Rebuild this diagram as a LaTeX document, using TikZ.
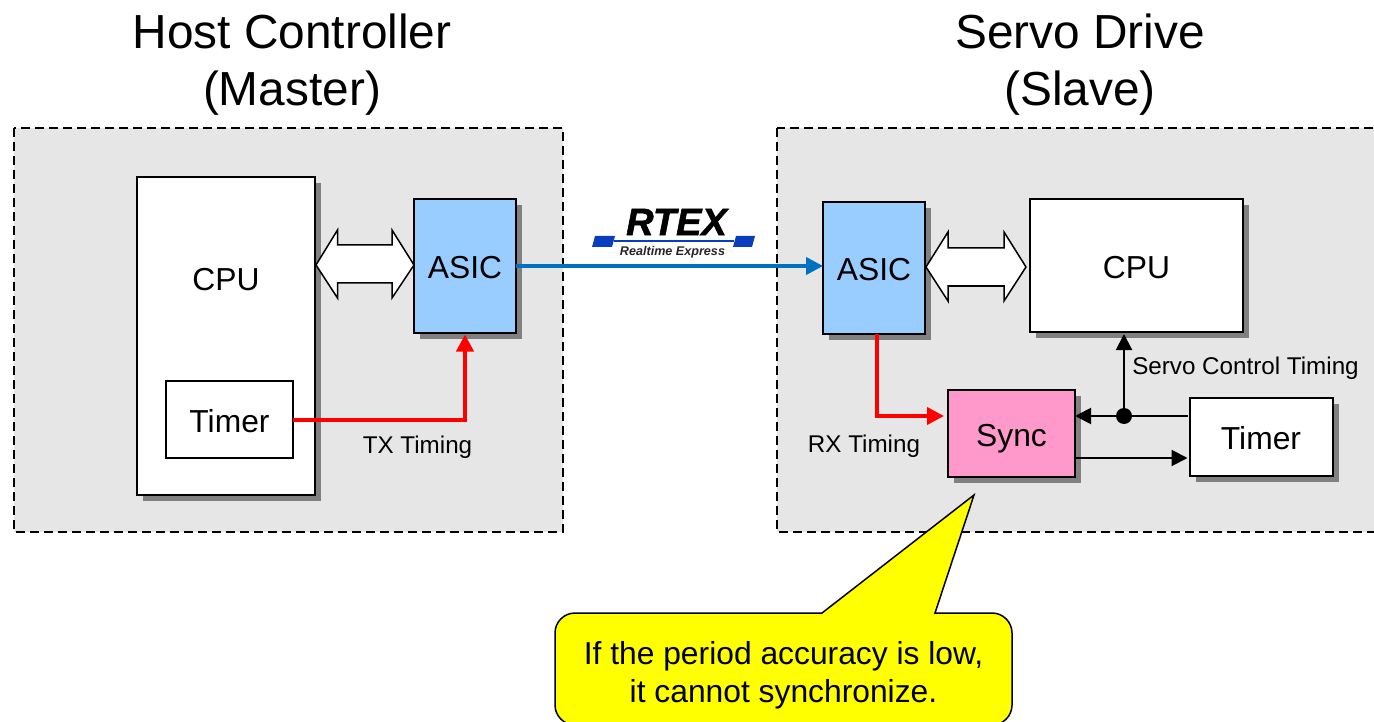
\documentclass[tikz,border=0pt]{standalone}
\usepackage{fontspec}
\setmainfont{Liberation Sans}
\newfontfamily\logofont{Liberation Sans}[BoldItalicFeatures={FakeBold=1.5}]
\usetikzlibrary{shadows,arrows.meta}
\definecolor{panel}{HTML}{E6E6E6}
\definecolor{shade}{HTML}{808080}
\definecolor{asicblue}{HTML}{99CCFF}
\definecolor{syncpink}{HTML}{FF99CC}
\definecolor{linkblue}{HTML}{0070C0}
\definecolor{logoblue}{HTML}{0A3CC0}
\definecolor{calloutyellow}{RGB}{255,255,0}
\newcommand{\lowered}[2]{\raisebox{-#1pt}[\height][\depth]{#2}}
\tikzset{
  x=1pt,y=-1pt,
  panelbox/.style={draw=black,fill=panel,line width=2pt,dash pattern=on 9pt off 5pt},
  shadowbox/.style={draw=black,fill=white,line width=2pt,inner sep=0pt,outer sep=0pt,
    font=\fontsize{31.8}{36}\selectfont,
    drop shadow={shadow xshift=6pt,shadow yshift=-6pt,opacity=1,fill=shade}},
  plainbox/.style={draw=black,fill=white,line width=1.5pt,inner sep=0pt,outer sep=0pt,
    font=\fontsize{31.8}{36}\selectfont},
  title/.style={font=\fontsize{47.8}{57}\selectfont,align=center,inner sep=0pt},
  smalllabel/.style={font=\fontsize{24.2}{28}\selectfont,inner sep=0pt},
  redline/.style={draw=red,line width=4pt,-{Triangle[length=17pt,width=17pt]}},
  blueline/.style={draw=linkblue,line width=4pt,-{Triangle[length=17pt,width=17pt]}},
  blackline/.style={draw=black,line width=2pt,-{Triangle[length=16pt,width=16pt]}},
  wide/.style={draw=black,fill=white,line width=1.5pt,line join=miter},
}
\begin{document}
\begin{tikzpicture}
\useasboundingbox (0,0) rectangle (1374,722);
\clip (0,0) rectangle (1374,722);
% panels
\draw[panelbox] (14,128) rectangle (563,532);
\draw[panelbox] (777,128) rectangle (1420,532);
% titles
\node[title] (t1) at (292,64.5) {Host Controller\\(Master)};
\node[title] (t2) at (1080,64.5) {Servo Drive\\(Slave)};
% left side
\node[shadowbox,minimum width=178pt,minimum height=318pt] (cpuL) at (226,336) {};
\node[font=\fontsize{31.8}{36}\selectfont,inner sep=0pt] (cpuLt) at (226,279.5) {CPU};
\node[plainbox,minimum width=127pt,minimum height=77pt] (timerL) at (229.5,419.5) {\lowered{2}{Timer}};
\node[shadowbox,fill=asicblue,minimum width=102pt,minimum height=133pt] (asicL) at (465,266) {\lowered{1.5}{ASIC}};
% right side
\node[shadowbox,fill=asicblue,minimum width=102pt,minimum height=132pt] (asicR) at (874,268) {\lowered{1.5}{ASIC}};
\node[shadowbox,minimum width=213pt,minimum height=133pt] (cpuR) at (1136.5,265.5) {\lowered{2}{CPU}};
\node[shadowbox,fill=syncpink,minimum width=127pt,minimum height=87pt] (sync) at (1011.5,433.5) {\lowered{5}{Sync}};
\node[shadowbox,minimum width=143pt,minimum height=78pt] (timerR) at (1261,437) {\lowered{1}{Timer}};
% double arrows
\draw[wide] (316,265) -- (337.5,230) -- (337.5,245) -- (392,245) -- (392,230) -- (414,265)
  -- (392,298) -- (392,283) -- (337.5,283) -- (337.5,298) -- cycle;
\draw[wide] (926,267) -- (948,232) -- (948,248) -- (1004,248) -- (1004,232) -- (1026,267)
  -- (1004,301) -- (1004,286) -- (948,286) -- (948,301) -- cycle;
% connectors
\coordinate (rxin) at (944,416);
\coordinate (dot) at (1124,416);
\draw[redline,shorten >=2pt] (timerL.east |- 0,420) -- (465,420) -- (asicL.south -| 465,0);
\draw[redline] (asicR.south -| 877,0) -- (877,416) -- (rxin);
\draw[blueline] (asicL.east |- 0,266) -- (asicR.west |- 0,266);
\draw[blackline,shorten <=2pt] (timerR.west |- dot) -- (sync.east |- dot);
\draw[blackline,shorten >=2pt] (sync.east |- 0,458) -- (timerR.west |- 0,458);
\draw[blackline,shorten >=2pt] (dot) -- (dot |- cpuR.south);
\fill (dot) circle (8);
% labels
\node[smalllabel] (txl) at (417.5,447.5) {TX Timing};
\node[smalllabel] (rxl) at (864,446.5) {RX Timing};
\node[smalllabel] (scl) at (1245.5,368.5) {Servo Control Timing};
% logo
\fill[logoblue] (595,236) -- (615,236) -- (612,247) -- (592,247) -- cycle;
\fill[logoblue] (736,236) -- (755,236) -- (752,247) -- (733,247) -- cycle;
\fill[logoblue] (614,240) rectangle (734,242);
\node[font=\fontsize{38}{38}\selectfont\logofont\bfseries\itshape,inner sep=0pt] (rtex) at (676.5,222) {RTEX};
\node[font=\fontsize{12.6}{13}\selectfont\bfseries\itshape,inner sep=0pt,text=black!85] (rtex2) at (672.5,252) {Realtime Express};
% callout
\draw[draw=black,fill=calloutyellow,line width=1.5pt,line join=miter]
  (575,613) -- (822,613) -- (974,495) -- (935,613) -- (992,613)
  .. controls (1003,613) and (1012,622) .. (1012,633)
  -- (1012,705) .. controls (1012,716) and (1003,725) .. (992,725)
  -- (575,725) .. controls (564,725) and (555,716) .. (555,705)
  -- (555,633) .. controls (555,622) and (564,613) .. (575,613) -- cycle;
\node[font=\fontsize{31.8}{38}\selectfont,align=center,inner sep=0pt] (calltext) at (783.5,675) {If the period accuracy is low,\\it cannot synchronize.};
\end{tikzpicture}
\end{document}
